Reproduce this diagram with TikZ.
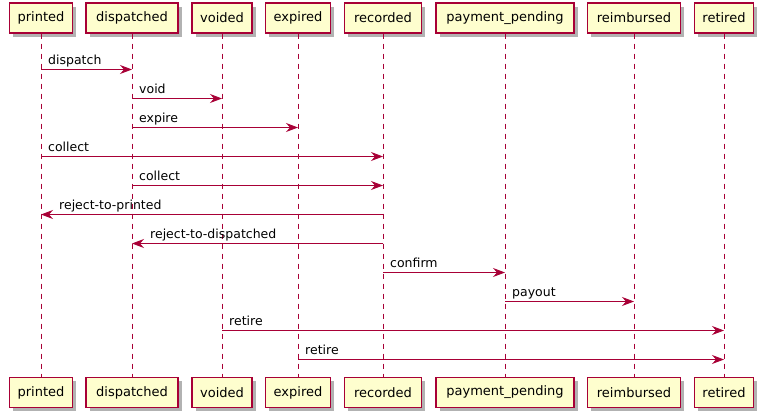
\documentclass[tikz,border=0pt]{standalone}
\usepackage{fontspec}
\setmainfont{DejaVu Sans}
\usetikzlibrary{arrows.meta,calc,shadows}
\definecolor{pumlred}{HTML}{A80036}
\definecolor{pumlfill}{HTML}{FEFECE}
\begin{document}
\begin{tikzpicture}[x=1pt,y=-1pt,
  part/.style={draw=pumlred, fill=pumlfill, line width=1.1pt, inner sep=0pt,
    minimum height=30pt, font=\fontsize{13}{15}\selectfont,
    drop shadow={shadow xshift=3.5pt,shadow yshift=-3.5pt,opacity=0.3,fill=black}},
  lifeline/.style={draw=pumlred, line width=0.8pt, dash pattern=on 5pt off 5pt},
  msg/.style={draw=pumlred, line width=0.9pt, -{Stealth[length=12pt,width=9pt,inset=4pt]}},
  lbl/.style={font=\fontsize{12.5}{14}\selectfont, inner sep=0pt}
]
\useasboundingbox (0,0) rectangle (762,418);
% participants: top row
\node[part, minimum width=63pt] (pt) at (41,18) {printed};
\node[part, minimum width=92pt] (dt) at (132,18) {dispatched};
\node[part, minimum width=60pt] (vt) at (222,18) {voided};
\node[part, minimum width=65pt] (et) at (298,18) {expired};
\node[part, minimum width=77pt] (rt) at (383,18) {recorded};
\node[part, minimum width=138pt] (mt) at (505,18) {payment\_pending};
\node[part, minimum width=93pt] (bt) at (634,18) {reimbursed};
\node[part, minimum width=59pt] (xt) at (724,18) {retired};
% bottom row
\node[part, minimum width=63pt] (pb) at (41,392.5) {printed};
\node[part, minimum width=92pt] (db) at (132,392.5) {dispatched};
\node[part, minimum width=60pt] (vb) at (222,392.5) {voided};
\node[part, minimum width=65pt] (eb) at (298,392.5) {expired};
\node[part, minimum width=77pt] (rb) at (383,392.5) {recorded};
\node[part, minimum width=138pt] (mb) at (505,392.5) {payment\_pending};
\node[part, minimum width=93pt] (bb) at (634,392.5) {reimbursed};
\node[part, minimum width=59pt] (xb) at (724,392.5) {retired};
% lifelines
\foreach \a/\b in {pt/pb,dt/db,vt/vb,et/eb,rt/rb,mt/mb,bt/bb,xt/xb}
  \draw[lifeline] (\a.south) -- (\b.north);
% message rows
\foreach \i in {1,...,11}
  \coordinate (r\i) at (0,{69.5+29*(\i-1)});
% rightward messages
\foreach \i/\f/\t/\txt in {1/pt/dt/dispatch, 2/dt/vt/void, 3/dt/et/expire,
    4/pt/rt/collect, 5/dt/rt/collect, 8/rt/mt/confirm, 9/mt/bt/payout,
    10/vt/xt/retire, 11/et/xt/retire}{
  \draw[msg] (\f |- r\i) -- (\t |- r\i);
  \node[lbl, anchor=base west] (m\i) at ($(\f |- r\i)+(7,-5)$) {\txt};
}
% leftward messages
\foreach \i/\f/\t/\txt in {6/rt/pt/reject-to-printed, 7/rt/dt/reject-to-dispatched}{
  \draw[msg] (\f |- r\i) -- (\t |- r\i);
  \node[lbl, anchor=base west] (m\i) at ($(\t |- r\i)+(18,-5)$) {\txt};
}
\end{tikzpicture}
\end{document}
